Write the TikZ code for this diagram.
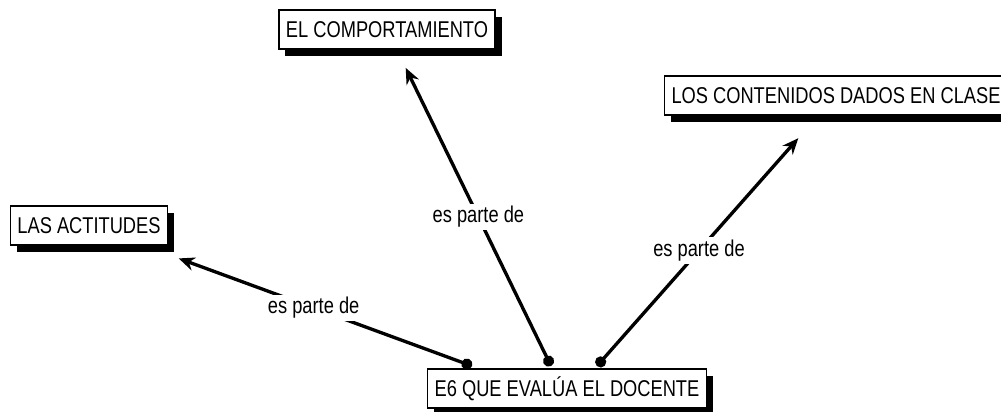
\documentclass[tikz,border=0pt]{standalone}
\usepackage{fontspec}
\setmainfont{Liberation Sans}[FakeStretch=0.8]
\usetikzlibrary{arrows.meta, shadows, calc}
\tikzset{
  concept/.style={draw=black, line width=0.9pt, fill=white, font=\fontsize{13}{15}\selectfont,
    inner xsep=0.14cm, minimum height=0.78cm, outer sep=0pt,
    drop shadow={shadow xshift=0.13cm, shadow yshift=-0.14cm, fill=black, opacity=1}},
  link/.style={line width=1.9pt, {Circle[length=2.2mm]}-{Stealth[length=3.2mm, width=2.7mm]}},
  lbl/.style={fill=white, inner sep=1.5pt, font=\fontsize{13}{15}\selectfont},
}
\begin{document}
\begin{tikzpicture}[x=0.02cm, y=-0.02cm]
\useasboundingbox (0,0) rectangle (1001,412);

% ── concepts ─────────────────────────────────────────────────────────────────
\node[concept] (docente) at (567, 388.5) {E6 QUE EVALÚA EL DOCENTE};
\node[concept] (comport) at (387, 29.5) {EL COMPORTAMIENTO};
\node[concept] (actitud) at (89, 225.5) {LAS ACTITUDES};
\node[concept] (conten) at (836, 95.5) {LOS CONTENIDOS DADOS EN CLASE};

% start points just above the bottom concept
\coordinate (d1) at (472, 366);
\coordinate (d2) at (551, 366);
\coordinate (d3) at (597, 366);

% ── links ────────────────────────────────────────────────────────────────────
\draw[link, shorten >=0.78cm] (d1) -- node[lbl, pos=0.48] (l1) {es parte de} (actitud);
\draw[link, shorten >=0.42cm] (d2) -- node[lbl, pos=0.47] (l2) {es parte de} (comport);
\draw[link, shorten >=0.62cm] (d3) -- node[lbl, pos=0.46] (l3) {es parte de} (conten);

\end{tikzpicture}
\end{document}
